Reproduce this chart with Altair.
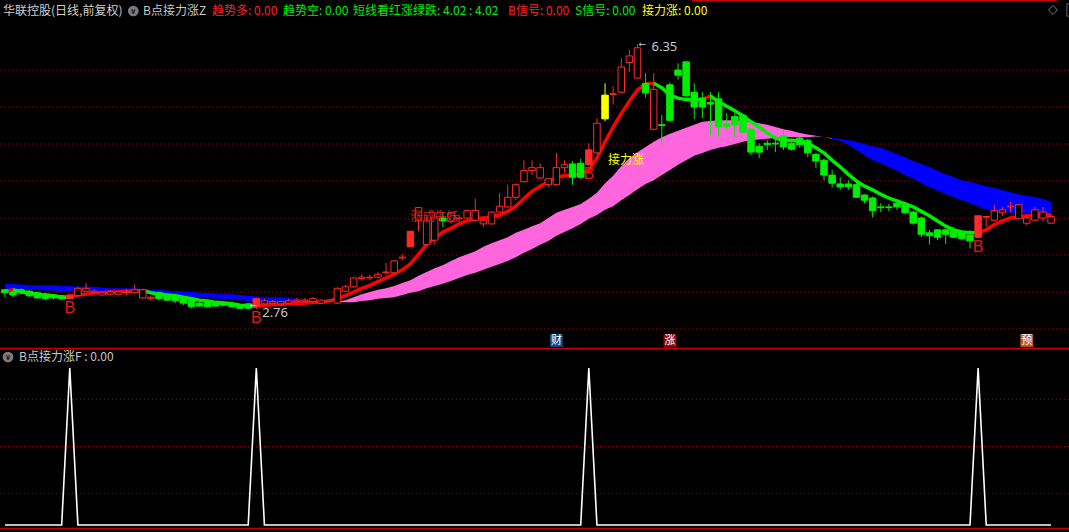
import altair as alt
import pandas as pd

FONT = "Noto Sans CJK SC"

# ---------------- daily bars (one per trading day) ----------------
opens = [3.03, 3.00, 3.03, 3.01, 2.99, 2.97, 2.96, 2.95, 2.91, 2.95,
         3.01, 2.99, 2.96, 2.97, 2.97, 2.99, 2.99, 2.92, 2.91, 2.99,
         2.96, 2.93, 2.91, 2.92, 2.85, 2.87, 2.85, 2.85, 2.84, 2.82,
         2.84, 2.80, 2.84, 2.85, 2.84, 2.85, 2.87, 2.87, 2.87, 2.85,
         2.87, 2.85, 3.01, 3.07, 3.18, 3.19, 3.20, 3.26, 3.26, 3.46,
         3.61, 3.97, 3.64, 3.70, 4.00, 3.95, 3.99, 4.00, 3.97, 3.92,
         3.92, 4.08, 4.15, 4.28, 4.49, 4.64, 4.54, 4.45, 4.45, 4.68,
         4.73, 4.74, 4.72, 4.88, 5.34, 5.67, 5.70, 6.10, 5.89, 5.82,
         5.20, 5.26, 5.80, 6.00, 6.11, 5.70, 5.62, 5.56, 5.61, 5.27,
         5.37, 5.39, 5.20, 4.97, 5.01, 5.01, 5.11, 5.01, 5.08, 5.05,
         4.86, 4.78, 4.58, 4.46, 4.46, 4.45, 4.31, 4.27, 4.15, 4.15,
         4.20, 4.18, 4.08, 4.00, 3.80, 3.84, 3.84, 3.84, 3.81, 3.77,
         3.74, 4.01, 3.97, 4.07, 4.15, 3.99, 3.93, 3.97, 4.00, 3.93]
highs = [3.04, 3.01, 3.05, 3.03, 3.00, 2.99, 2.97, 2.96, 2.97, 3.07,
         3.12, 3.03, 3.00, 3.02, 3.01, 3.04, 3.10, 3.04, 2.94, 3.00,
         2.97, 2.95, 2.92, 2.93, 2.87, 2.88, 2.86, 2.87, 2.85, 2.84,
         2.85, 2.92, 2.91, 2.89, 2.88, 2.91, 2.92, 2.92, 2.93, 2.90,
         2.90, 3.06, 3.10, 3.20, 3.24, 3.23, 3.27, 3.39, 3.43, 3.51,
         3.83, 4.15, 4.02, 4.08, 4.08, 4.08, 4.05, 4.11, 4.26, 3.99,
         4.09, 4.34, 4.45, 4.47, 4.78, 4.78, 4.74, 4.53, 4.88, 4.78,
         4.77, 4.80, 5.01, 5.35, 5.82, 5.78, 6.16, 6.27, 6.35, 5.96,
         5.96, 5.39, 5.83, 6.09, 6.12, 5.82, 5.70, 5.70, 5.70, 5.42,
         5.42, 5.41, 5.22, 5.01, 5.05, 5.07, 5.19, 5.03, 5.10, 5.07,
         4.88, 4.80, 4.65, 4.55, 4.51, 4.47, 4.32, 4.29, 4.20, 4.19,
         4.24, 4.22, 4.10, 4.02, 3.84, 3.85, 3.85, 3.88, 3.83, 3.84,
         4.03, 4.03, 4.18, 4.15, 4.22, 4.18, 4.03, 4.15, 4.15, 4.05]
lows = [2.93, 2.93, 2.97, 2.93, 2.91, 2.89, 2.90, 2.89, 2.90, 2.94,
        3.00, 2.98, 2.95, 2.96, 2.96, 2.96, 2.98, 2.91, 2.88, 2.89,
        2.88, 2.85, 2.82, 2.78, 2.80, 2.79, 2.80, 2.81, 2.79, 2.77,
        2.76, 2.77, 2.83, 2.84, 2.83, 2.84, 2.86, 2.86, 2.86, 2.84,
        2.86, 2.84, 3.00, 3.05, 3.15, 3.16, 3.19, 3.23, 3.25, 3.43,
        3.61, 3.82, 3.63, 3.64, 3.88, 3.93, 3.95, 3.99, 3.96, 3.88,
        3.91, 4.07, 4.14, 4.24, 4.48, 4.58, 4.53, 4.42, 4.44, 4.61,
        4.45, 4.53, 4.71, 4.87, 5.31, 5.53, 5.68, 5.97, 5.88, 5.63,
        5.19, 4.99, 5.30, 5.87, 5.64, 5.34, 5.35, 5.12, 5.10, 5.19,
        5.08, 5.15, 4.85, 4.81, 4.92, 4.89, 4.92, 4.91, 4.95, 4.82,
        4.68, 4.51, 4.41, 4.38, 4.38, 4.27, 4.20, 4.01, 4.08, 4.09,
        4.11, 4.05, 3.91, 3.74, 3.64, 3.70, 3.65, 3.73, 3.70, 3.59,
        3.73, 3.88, 3.96, 4.03, 4.08, 3.98, 3.90, 3.96, 3.96, 3.92]
closes = [2.99, 2.96, 3.00, 2.95, 2.92, 2.91, 2.92, 2.91, 2.96, 3.05,
          3.05, 3.01, 2.99, 3.00, 3.00, 3.00, 3.03, 3.03, 2.93, 2.91,
          2.89, 2.88, 2.85, 2.80, 2.81, 2.80, 2.81, 2.82, 2.80, 2.78,
          2.78, 2.91, 2.88, 2.87, 2.87, 2.88, 2.89, 2.89, 2.91, 2.89,
          2.89, 3.05, 3.07, 3.19, 3.20, 3.20, 3.24, 3.27, 3.42, 3.47,
          3.82, 4.14, 3.96, 4.00, 3.96, 4.07, 4.00, 4.10, 4.10, 3.97,
          4.08, 4.16, 4.28, 4.45, 4.64, 4.68, 4.68, 4.53, 4.68, 4.72,
          4.55, 4.55, 4.92, 5.28, 5.66, 5.68, 6.04, 6.19, 6.30, 5.69,
          5.74, 5.25, 5.32, 5.93, 5.65, 5.50, 5.50, 5.54, 5.23, 5.24,
          5.26, 5.16, 4.89, 4.89, 4.99, 5.00, 4.96, 4.93, 4.99, 4.88,
          4.77, 4.58, 4.47, 4.42, 4.42, 4.28, 4.24, 4.10, 4.14, 4.14,
          4.15, 4.07, 3.93, 3.78, 3.76, 3.74, 3.78, 3.74, 3.72, 3.69,
          4.03, 4.02, 4.10, 4.11, 4.16, 4.18, 4.00, 4.11, 4.08, 4.02]

# short-term trend line (red while rising, green while falling)
short_line = [3.01, 3.03, 3.00, 2.99, 2.97, 2.96, 2.95, 2.93, 2.93, 2.96,
              2.97, 2.99, 2.99, 3.00, 3.00, 3.01, 3.01, 3.02, 2.99, 2.97,
              2.96, 2.95, 2.93, 2.91, 2.89, 2.88, 2.86, 2.85, 2.84, 2.82,
              2.81, 2.81, 2.82, 2.83, 2.83, 2.84, 2.84, 2.85, 2.86, 2.86,
              2.88, 2.91, 2.95, 3.00, 3.05, 3.09, 3.14, 3.19, 3.24, 3.30,
              3.38, 3.51, 3.64, 3.73, 3.81, 3.86, 3.92, 3.96, 3.99, 4.00,
              4.01, 4.04, 4.09, 4.16, 4.26, 4.36, 4.43, 4.49, 4.55, 4.57,
              4.58, 4.59, 4.65, 4.81, 5.03, 5.23, 5.41, 5.58, 5.73, 5.81,
              5.82, 5.76, 5.66, 5.62, 5.60, 5.60, 5.60, 5.65, 5.57, 5.51,
              5.45, 5.38, 5.30, 5.23, 5.15, 5.08, 5.05, 5.05, 5.04, 5.01,
              4.95, 4.88, 4.78, 4.69, 4.59, 4.50, 4.43, 4.38, 4.32, 4.27,
              4.23, 4.19, 4.15, 4.09, 4.03, 3.96, 3.89, 3.84, 3.81, 3.80,
              3.80, 3.84, 3.91, 3.96, 4.00, 4.01, 4.03, 4.03, 4.04, 4.04]

# trend ribbon: fast and slow averages (pink above, blue below)
ma_fast = [3.04, 3.04, 3.03, 3.03, 3.03, 3.02, 3.02, 3.01, 3.01, 3.01,
           3.01, 3.01, 3.01, 3.01, 3.00, 3.00, 3.00, 2.99, 2.99, 2.97,
           2.97, 2.96, 2.95, 2.93, 2.93, 2.92, 2.91, 2.91, 2.90, 2.89,
           2.88, 2.87, 2.86, 2.86, 2.86, 2.86, 2.86, 2.86, 2.86, 2.86,
           2.86, 2.87, 2.89, 2.93, 2.97, 3.00, 3.03, 3.05, 3.08, 3.12,
           3.16, 3.22, 3.27, 3.32, 3.36, 3.42, 3.47, 3.51, 3.55, 3.61,
           3.66, 3.70, 3.74, 3.80, 3.84, 3.89, 3.93, 4.00, 4.07, 4.11,
           4.15, 4.19, 4.26, 4.34, 4.47, 4.57, 4.70, 4.81, 4.89, 4.96,
           5.03, 5.09, 5.14, 5.18, 5.22, 5.26, 5.30, 5.31, 5.32, 5.32,
           5.32, 5.31, 5.30, 5.28, 5.26, 5.23, 5.20, 5.18, 5.15, 5.13,
           5.11, 5.09, 5.07, 5.04, 4.99, 4.92, 4.85, 4.78, 4.74, 4.69,
           4.64, 4.58, 4.53, 4.47, 4.42, 4.37, 4.32, 4.28, 4.24, 4.20,
           4.16, 4.11, 4.09, 4.08, 4.07, 4.07, 4.07, 4.06, 4.05, 4.04]
ma_slow = [3.11, 3.11, 3.10, 3.09, 3.09, 3.09, 3.09, 3.08, 3.08, 3.07,
           3.07, 3.07, 3.06, 3.05, 3.05, 3.05, 3.05, 3.04, 3.03, 3.03,
           3.02, 3.01, 3.01, 3.00, 2.99, 2.99, 2.98, 2.97, 2.97, 2.96,
           2.95, 2.94, 2.93, 2.93, 2.93, 2.92, 2.91, 2.90, 2.90, 2.89,
           2.88, 2.86, 2.86, 2.86, 2.88, 2.89, 2.91, 2.92, 2.93, 2.96,
           2.99, 3.01, 3.05, 3.08, 3.11, 3.15, 3.19, 3.23, 3.26, 3.30,
           3.34, 3.38, 3.42, 3.47, 3.53, 3.58, 3.64, 3.69, 3.76, 3.81,
           3.86, 3.92, 3.99, 4.04, 4.11, 4.16, 4.24, 4.31, 4.39, 4.46,
           4.51, 4.58, 4.65, 4.72, 4.78, 4.84, 4.88, 4.92, 4.95, 4.97,
           5.00, 5.03, 5.05, 5.06, 5.07, 5.08, 5.09, 5.09, 5.09, 5.09,
           5.10, 5.09, 5.08, 5.07, 5.05, 5.03, 5.00, 4.97, 4.95, 4.91,
           4.86, 4.82, 4.77, 4.73, 4.69, 4.64, 4.59, 4.55, 4.51, 4.49,
           4.46, 4.43, 4.41, 4.38, 4.35, 4.32, 4.30, 4.28, 4.26, 4.22]

# signal days
b_signal = [8, 31, 72, 120]
limit_up_days = [50]
relay_days = [74]

# calendar event tags: day index, glyph, tag colour
event_days = [68, 82, 126]
event_tags = ["财", "涨", "预"]
event_colors = ["#0c4a8c", "#8c0c0c", "#c4561c"]

grid_prices = [2.5, 3.0, 3.5, 4.0, 4.5, 5.0, 5.5, 6.0]
signal_grid = [0.2, 0.5, 0.8]

# ---------------- colours ----------------
RED = "#ff2a2a"
LINE_RED = "#ff0000"
GREEN = "#00ee00"
YELLOW = "#ffff00"
GRID = "#a00000"
FRAME = "#c80000"
GRAY = "#c8c8c8"

n = len(closes)
idx = list(range(n))

# ---------------- scales ----------------
X = alt.Scale(domain=[0, n - 1], range=[4.9, 1051.1], nice=False, zero=False)
PY = alt.Scale(domain=[2.5, 6.0], range=[329, 70], nice=False, zero=False)
SY = alt.Scale(domain=[0, 1], range=[525, 368], nice=False, zero=False)


def xq(field):
    return alt.X(field, type="quantitative", scale=X, axis=None)


def pq(field):
    return alt.Y(field, type="quantitative", scale=PY, axis=None)


# ---------------- tables ----------------
def bar_kind(j):
    if j in relay_days:
        return "relay"
    if j in b_signal or j in limit_up_days:
        return "solid"
    return "down" if closes[j] < opens[j] else "up"


bars = pd.DataFrame({"i": idx, "o": opens, "h": highs, "l": lows, "c": closes})
bars["kind"] = [bar_kind(j) for j in idx]

KINDS = ["up", "down", "solid", "relay"]
stroke_scale = alt.Scale(domain=KINDS, range=[RED, GREEN, RED, YELLOW])
fill_scale = alt.Scale(domain=KINDS, range=["#000000", GREEN, RED, YELLOW])

# short line split into runs of one trend
seg_trend = []
prev = "dn"
for k in range(n - 1):
    d = short_line[k + 1] - short_line[k]
    t = "up" if d > 0 else ("dn" if d < 0 else prev)
    seg_trend.append(t)
    prev = t

line_rows = []
run_id = 0
for k, t in enumerate(seg_trend):
    if k == 0 or t != seg_trend[k - 1]:
        if k > 0:
            run_id += 1
        line_rows.append({"run": run_id, "i": k, "v": short_line[k], "trend": t})
    line_rows.append({"run": run_id, "i": k + 1, "v": short_line[k + 1], "trend": t})
line_df = pd.DataFrame(line_rows)

# ribbon split into bull / bear stretches sharing their boundary day
state = ["bull" if f >= s else "bear" for f, s in zip(ma_fast, ma_slow)]
band_rows = []
run_id = 0
start = 0
for k in range(1, n + 1):
    if k == n or state[k] != state[start]:
        end = min(k, n - 1)
        for j in range(start, end + 1):
            band_rows.append({"run": run_id, "i": j, "fast": ma_fast[j],
                              "slow": ma_slow[j], "state": state[start]})
        run_id += 1
        start = k
band_df = pd.DataFrame(band_rows)

signal_df = pd.DataFrame({"i": idx, "sig": [1 if j in b_signal else 0 for j in idx]})

# ---------------- layers ----------------
layers = []

# dotted price grid and signal grid
layers.append(
    alt.Chart(pd.DataFrame({"p": grid_prices}))
    .mark_rule(color=GRID, strokeDash=[1, 3], strokeWidth=1)
    .encode(y=pq("p"), x=alt.value(0), x2=alt.value(1069))
)
layers.append(
    alt.Chart(pd.DataFrame({"g": signal_grid}))
    .mark_rule(color=GRID, strokeDash=[1, 3], strokeWidth=1)
    .encode(y=alt.Y("g:Q", scale=SY, axis=None), x=alt.value(0), x2=alt.value(1069))
)

# panel frame lines
layers.append(
    alt.Chart(pd.DataFrame({"k": [0]}))
    .mark_rule(color=FRAME, strokeWidth=1.3)
    .encode(y=alt.value(348.5), x=alt.value(0), x2=alt.value(1069))
)
layers.append(
    alt.Chart(pd.DataFrame({"k": [0]}))
    .mark_rule(color=FRAME, strokeWidth=1.3)
    .encode(y=alt.value(528.5), x=alt.value(0), x2=alt.value(1069))
)
layers.append(
    alt.Chart(pd.DataFrame({"k": [0]}))
    .mark_rule(color=FRAME, strokeWidth=1.5)
    .encode(y=alt.value(0.75), x=alt.value(692), x2=alt.value(1057))
)

# ribbon
layers.append(
    alt.Chart(band_df)
    .mark_area(interpolate="linear", opacity=1)
    .encode(
        x=xq("i"),
        y=pq("fast"),
        y2="slow:Q",
        detail="run:N",
        color=alt.Color("state:N", scale=alt.Scale(domain=["bull", "bear"],
                                                     range=["#ff66dd", "#0000ff"]), legend=None),
    )
)

# short trend line
layers.append(
    alt.Chart(line_df)
    .mark_line(strokeWidth=3.5, strokeJoin="round")
    .encode(
        x=xq("i"),
        y=pq("v"),
        detail="run:N",
        color=alt.Color("trend:N", scale=alt.Scale(domain=["up", "dn"],
                                                     range=[LINE_RED, GREEN]), legend=None),
    )
)

# candles: wicks then bodies
layers.append(
    alt.Chart(bars)
    .mark_rule(strokeWidth=1)
    .encode(
        x=xq("i"),
        y=pq("l"),
        y2="h:Q",
        color=alt.Color("kind:N", scale=stroke_scale, legend=None),
    )
)
layers.append(
    alt.Chart(bars)
    .transform_calculate(x0="datum.i - 0.4", x1="datum.i + 0.4")
    .mark_rect(strokeWidth=1)
    .encode(
        x=xq("x0"),
        x2="x1:Q",
        y=pq("o"),
        y2="c:Q",
        fill=alt.Fill("kind:N", scale=fill_scale, legend=None),
        stroke=alt.Stroke("kind:N", scale=stroke_scale, legend=None),
    )
)

# buy markers under the signal bars
b_df = bars[bars["i"].isin(b_signal)][["i", "l"]].assign(t="B")
layers.append(
    alt.Chart(b_df)
    .mark_text(font="Liberation Sans", fontSize=16, color="#e81818",
               baseline="top", align="center", dy=1)
    .encode(x=xq("i"), y=pq("l"), text="t:N")
)

# high / low annotations
hi_i = max(idx, key=lambda j: highs[j])
lo_i = min(idx, key=lambda j: lows[j])
ext_df = pd.DataFrame({
    "i": [hi_i, lo_i],
    "p": [highs[hi_i], lows[lo_i]],
    "t": [f"{highs[hi_i]:.2f}", f"{lows[lo_i]:.2f}"],
    "a": ["←", "←"],
    "dy": [0, -5],
})
for _, r in ext_df.iterrows():
    one = pd.DataFrame([r])
    layers.append(
        alt.Chart(one)
        .mark_text(font="DejaVu Sans", fontSize=9, color=GRAY, align="left",
                   baseline="middle", dx=1, dy=int(r["dy"]))
        .encode(x=xq("i"), y=pq("p"), text="a:N")
    )
layers.append(
    alt.Chart(ext_df)
    .mark_text(font="Noto Sans", fontSize=13, color=GRAY, align="left", baseline="middle", dx=14, dy=3)
    .encode(x=xq("i"), y=pq("p"), text="t:N")
)

# pattern captions
layers.append(
    alt.Chart(pd.DataFrame({"i": limit_up_days, "p": [4.02], "t": ["涨成牛妖"]}))
    .mark_text(font=FONT, fontSize=12, color="#e02020", align="left", baseline="middle")
    .encode(x=xq("i"), y=pq("p"), text="t:N")
)
layers.append(
    alt.Chart(pd.DataFrame({"i": relay_days, "p": [4.78], "t": ["接力涨"]}))
    .mark_text(font=FONT, fontSize=12, color=YELLOW, align="left", baseline="middle", dx=3)
    .encode(x=xq("i"), y=pq("p"), text="t:N")
)

# event tags along the bottom of the price panel
ev_df = pd.DataFrame({"i": event_days, "t": event_tags, "col": event_colors})
layers.append(
    alt.Chart(ev_df)
    .mark_square(size=165, opacity=1)
    .encode(x=xq("i"), y=alt.value(340.5),
            color=alt.Color("col:N", scale=None, legend=None))
)
layers.append(
    alt.Chart(ev_df)
    .mark_text(font=FONT, fontSize=11, color="#ffffff", baseline="middle", align="center")
    .encode(x=xq("i"), y=alt.value(340.5), text="t:N")
)

# signal panel spikes
layers.append(
    alt.Chart(signal_df)
    .mark_line(color="#ffffff", strokeWidth=1.6)
    .encode(x=xq("i"), y=alt.Y("sig:Q", scale=SY, axis=None))
)

# header line
last = f"{closes[-1]:.2f}"
header = [
    (3, "华联控股(日线,前复权)", "#d0d0d0"),
    (143, "B点接力涨Z", GRAY),
    (212, "趋势多: 0.00", "#ff2020"),
    (283, "趋势空: 0.00", GREEN),
    (353, f"短线看红涨绿跌: {last} : {last}", GREEN),
    (508, "B信号: 0.00", "#ff2020"),
    (575, "S信号: 0.00", GREEN),
    (642, "接力涨: 0.00", YELLOW),
]
for hx, txt, col in header:
    layers.append(
        alt.Chart(pd.DataFrame({"t": [txt]}))
        .mark_text(font=FONT, fontSize=12, color=col, align="left", baseline="middle")
        .encode(x=alt.value(hx), y=alt.value(10.5), text="t:N")
    )

layers.append(
    alt.Chart(pd.DataFrame({"t": ["B点接力涨F : 0.00"]}))
    .mark_text(font=FONT, fontSize=12, color=GRAY, align="left", baseline="middle")
    .encode(x=alt.value(19), y=alt.value(357), text="t:N")
)

# collapse buttons
for cx, cy in [(133.3, 11), (8, 357)]:
    layers.append(
        alt.Chart(pd.DataFrame({"k": [0]}))
        .mark_circle(size=115, color="#7c7c7c", opacity=1)
        .encode(x=alt.value(cx), y=alt.value(cy))
    )
    layers.append(
        alt.Chart(pd.DataFrame({"t": ["∨"]}))
        .mark_text(font="DejaVu Sans", fontSize=8, fontWeight="bold", color="#222222",
                   align="center", baseline="middle")
        .encode(x=alt.value(cx), y=alt.value(cy + 0.5), text="t:N")
    )

# top-right window controls
layers.append(
    alt.Chart(pd.DataFrame({"k": [0]}))
    .mark_point(shape="diamond", filled=False, size=80, color="#b0b0b0", strokeWidth=1)
    .encode(x=alt.value(1053), y=alt.value(10))
)
layers.append(
    alt.Chart(pd.DataFrame({"k": [0]}))
    .mark_point(shape="square", filled=False, size=150, color="#909090", strokeWidth=1)
    .encode(x=alt.value(1073), y=alt.value(10))
)

chart = (
    alt.layer(*layers)
    .resolve_scale(y="independent", color="independent",
                   fill="independent", stroke="independent")
    .properties(width=1069, height=532, background="#000000", padding=0,
                autosize=alt.AutoSizeParams(type="none"))
    .configure_view(stroke=None)
)

chart.save("out.html", embed_options={"renderer": "svg", "actions": False})
